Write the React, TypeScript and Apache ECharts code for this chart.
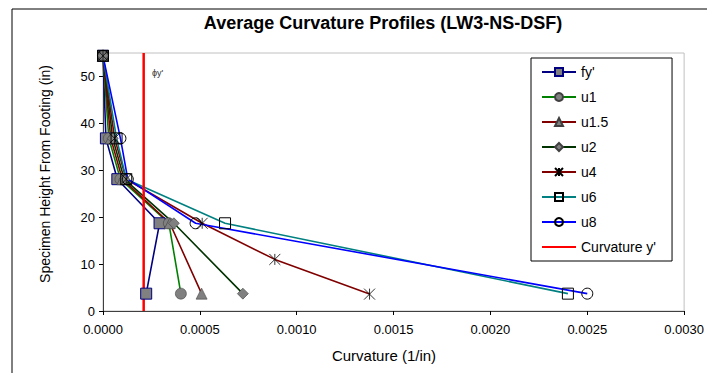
import React, { useEffect, useRef } from "react";
import * as echarts from "echarts";

// Section heights along the specimen (in)
const heights = [54.4, 36.8, 28.1, 18.7, 3.7];
const heightsU4 = [54.4, 36.8, 28.1, 18.7, 11.0, 3.6];

// Average curvature at each section (1/in)
const fyPrime = [0, 0.000015, 0.000074, 0.000292, 0.000223];
const u1 = [0, 0.00003, 0.00009, 0.00034, 0.000402];
const u15 = [0, 0.00004, 0.0001, 0.000345, 0.000509];
const u2 = [0, 0.00005, 0.00011, 0.000366, 0.000722];
const u4 = [0, 0.00006, 0.00012, 0.000512, 0.000887, 0.001376];
const u6 = [0, 0.00007, 0.00012, 0.00063, 0.0024];
const u8 = [0, 0.00009, 0.000128, 0.000478, 0.0025];

// Yield curvature reference line
const yieldCurvature = 0.00021;
const yieldLineHeights = [0, 55];

const xTicks = [0, 0.0005, 0.001, 0.0015, 0.002, 0.0025, 0.003];
const yTicks = [0, 10, 20, 30, 40, 50];

const FONT = "'Liberation Sans', Arial, sans-serif";
const STAR = "path://M0,0L10,10M10,0L0,10M5,0L5,10";

const pairs = (xs: number[], ys: number[]) => xs.map((x, i) => [x, ys[i]]);

export default function App() {
  const ref = useRef<HTMLDivElement>(null);

  useEffect(() => {
    if (!ref.current) return;
    const chart = echarts.init(ref.current, null, { renderer: "svg" });

    const gray = "#808080";
    const mk = (
      name: string,
      color: string,
      xs: number[],
      ys: number[],
      symbol: string,
      fill: string,
      border: string,
      size = 11,
      borderWidth = 1
    ) => ({
      name,
      type: "line",
      data: pairs(xs, ys),
      symbol,
      symbolSize: size,
      showAllSymbol: true,
      lineStyle: { color, width: 1.6 },
      itemStyle: { color: fill, borderColor: border, borderWidth },
      emphasis: { disabled: true },
    });

    chart.setOption({
      animation: false,
      backgroundColor: "#ffffff",
      textStyle: { fontFamily: FONT },
      grid: {
        left: 103,
        right: 21,
        top: 53,
        bottom: 62,
        show: true,
        borderColor: "#c0c0c0",
        borderWidth: 1,
        backgroundColor: "transparent",
      },
      xAxis: {
        type: "value",
        min: 0,
        max: 0.003,
        interval: 0.0005,
        axisLine: { show: true, lineStyle: { color: "#404040", width: 1 } },
        axisTick: { show: true, length: 4, lineStyle: { color: "#000" }, customValues: xTicks },
        axisLabel: {
          color: "#000",
          fontSize: 13,
          fontFamily: FONT,
          margin: 12,
          customValues: xTicks,
          formatter: (v: number) => v.toFixed(4),
        },
        splitLine: { show: false },
      },
      yAxis: {
        type: "value",
        min: 0,
        max: 55,
        interval: 10,
        axisLine: { show: true, lineStyle: { color: "#404040", width: 1 } },
        axisTick: { show: true, length: 4, lineStyle: { color: "#000" }, customValues: yTicks },
        axisLabel: {
          color: "#000",
          fontSize: 13,
          fontFamily: FONT,
          margin: 8,
          customValues: yTicks,
        },
        splitLine: { show: false },
      },
      legend: {
        orient: "vertical",
        left: 531,
        top: 58,
        padding: [7, 16, 7, 10],
        itemGap: 11,
        itemWidth: 34,
        itemHeight: 10,
        backgroundColor: "#ffffff",
        borderColor: "#000000",
        borderWidth: 1,
        textStyle: { fontSize: 14, color: "#000", fontFamily: FONT, padding: [0, 0, 0, 0] },
        data: [
          "fy'",
          "u1",
          "u1.5",
          "u2",
          "u4",
          "u6",
          "u8",
          { name: "Curvature y'", itemStyle: { opacity: 0 } },
        ],
      },
      series: [
        mk("fy'", "#000080", fyPrime, heights, "rect", gray, "#000080"),
        mk("u1", "#008000", u1, heights, "circle", gray, "#404040", 11, 0.6),
        mk("u1.5", "#800000", u15, heights, "triangle", gray, "#404040", 11, 0.6),
        mk("u2", "#003300", u2, heights, "diamond", gray, "#404040", 11, 0.6),
        mk("u4", "#800000", u4, heightsU4, STAR, "rgba(0,0,0,0)", "#000000", 11, 0.8),
        mk("u6", "#008080", u6, heights, "rect", "rgba(0,0,0,0)", "#000000"),
        mk("u8", "#0000ff", u8, heights, "circle", "rgba(0,0,0,0)", "#000000"),
        {
          name: "Curvature y'",
          type: "line",
          data: yieldLineHeights.map((h) => [yieldCurvature, h]),
          symbol: "none",
          lineStyle: { color: "#ff0000", width: 2.5 },
          itemStyle: { color: "#ff0000" },
          emphasis: { disabled: true },
        },
      ],
      graphic: [
        {
          type: "rect",
          shape: { x: 12, y: 9, width: 720, height: 400 },
          style: { fill: "none", stroke: "#000000", lineWidth: 1 },
          silent: true,
          z: -10,
        },
        {
          type: "text",
          x: 383,
          y: 23,
          style: {
            text: "Average Curvature Profiles (LW3-NS-DSF)",
            font: `bold 18px ${FONT}`,
            fill: "#000",
            align: "center",
            verticalAlign: "middle",
          },
        },
        {
          type: "text",
          x: 384,
          y: 355,
          style: {
            text: "Curvature (1/in)",
            font: `15px ${FONT}`,
            fill: "#000",
            align: "center",
            verticalAlign: "middle",
          },
        },
        {
          type: "text",
          x: 45,
          y: 174,
          rotation: Math.PI / 2,
          style: {
            text: "Specimen Height From Footing (in)",
            font: `14px ${FONT}`,
            fill: "#000",
            align: "center",
            verticalAlign: "middle",
          },
        },
        {
          type: "text",
          x: 152,
          y: 73,
          style: {
            text: "ϕy'",
            font: `9px ${FONT}`,
            fill: "#333",
            align: "left",
            verticalAlign: "middle",
          },
        },
      ],
    });

    return () => chart.dispose();
  }, []);

  return (
    <div
      ref={ref}
      style={{ position: "fixed", left: 0, top: 0, width: 707, height: 373 }}
    />
  );
}
